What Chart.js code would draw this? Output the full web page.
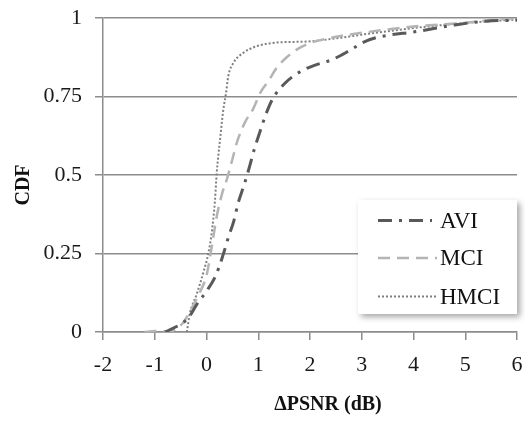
<!DOCTYPE html>
<html>
<head>
<meta charset="utf-8">
<script src="https://cdn.jsdelivr.net/npm/chart.js@4.4.1/dist/chart.umd.min.js"></script>
<style>
  html, body { margin: 0; padding: 0; background: #fff; }
  #wrap { width: 525px; height: 421px; }
</style>
</head>
<body>
<div id="wrap"><canvas id="cdfChart" width="525" height="421"></canvas></div>
<script>
// values
var seriesNames = ['AVI', 'MCI', 'HMCI'];
var yTickLabels = ['0', '0.25', '0.5', '0.75', '1'];

var aviX = [-0.8, -0.5, -0.35, -0.19, 0.0, 0.18, 0.31, 0.42, 0.53, 0.61, 0.73, 0.82, 0.92, 1.03, 1.14, 1.28, 1.5, 1.8, 2.1, 2.42, 2.75, 3.06, 3.35, 4.06, 4.8, 5.4, 6.0];
var aviY = [0, 0.025, 0.045, 0.087, 0.13, 0.18, 0.24, 0.30, 0.355, 0.41, 0.47, 0.52, 0.58, 0.636, 0.69, 0.743, 0.79, 0.828, 0.85, 0.867, 0.895, 0.925, 0.94, 0.957, 0.978, 0.99, 0.993];

var mciX = [-1.2, -1.0, -0.8, -0.6, -0.45, -0.32, -0.15, 0.0, 0.1, 0.2, 0.3, 0.4, 0.5, 0.6, 0.75, 0.9, 1.05, 1.2, 1.35, 1.55, 1.75, 2.0, 2.5, 3.1, 4.0, 5.0, 5.5, 6.0];
var mciY = [0, 0.003, 0.002, 0.008, 0.03, 0.065, 0.12, 0.18, 0.27, 0.37, 0.44, 0.49, 0.55, 0.61, 0.67, 0.71, 0.765, 0.80, 0.84, 0.875, 0.9, 0.92, 0.94, 0.955, 0.973, 0.985, 0.993, 1.0];

var hmciX = [-0.38, -0.32, -0.19, -0.06, 0.035, 0.10, 0.164, 0.197, 0.26, 0.325, 0.377, 0.42, 0.52, 0.71, 0.97, 1.36, 1.94, 2.5, 3.0, 4.0, 5.0, 5.5, 6.0];
var hmciY = [0, 0.06, 0.12, 0.19, 0.25, 0.315, 0.42, 0.506, 0.61, 0.708, 0.76, 0.814, 0.857, 0.889, 0.91, 0.922, 0.925, 0.935, 0.947, 0.968, 0.984, 0.99, 0.995];

function toPoints(xs, ys) {
    return xs.map(function (x, i) { return { x: x, y: ys[i] }; });
}

var serif = "'Liberation Serif', 'Times New Roman', serif";
var gridGray = '#8c8c8c';

// legend box drawn inside the plot, with a soft shadow
var legendPlugin = {
    id: 'boxLegend',
    afterDraw: function (chart) {
        var ctx = chart.ctx;
        var bx = 358, by = 200, bw = 159, bh = 114;
        ctx.save();
        ctx.shadowColor = 'rgba(0,0,0,0.35)';
        ctx.shadowBlur = 6;
        ctx.shadowOffsetX = 3;
        ctx.shadowOffsetY = 3;
        ctx.fillStyle = '#fff';
        ctx.fillRect(bx, by, bw, bh);
        ctx.restore();

        var rowsY = [220.5, 258, 296.5];
        chart.data.datasets.forEach(function (ds, i) {
            ctx.save();
            ctx.strokeStyle = ds.borderColor;
            ctx.lineWidth = ds.borderWidth;
            ctx.setLineDash(ds.borderDash || []);
            ctx.beginPath();
            ctx.moveTo(378, rowsY[i]);
            ctx.lineTo(i === 0 ? 432 : 437, rowsY[i]);
            ctx.stroke();
            ctx.restore();
            ctx.save();
            ctx.fillStyle = '#111';
            ctx.font = '23px ' + serif;
            ctx.textBaseline = 'middle';
            ctx.textAlign = 'left';
            ctx.fillText(ds.label, 440, rowsY[i] + 1);
            ctx.restore();
        });
    }
};

// axis titles sit a little off-centre in the reference
var axisTitlePlugin = {
    id: 'axisTitles',
    afterDraw: function (chart) {
        var ctx = chart.ctx;
        ctx.save();
        ctx.fillStyle = '#111';
        ctx.font = 'bold 20px ' + serif;
        ctx.textAlign = 'center';
        ctx.textBaseline = 'middle';
        ctx.fillText('\u0394PSNR (dB)', 328, 405);
        ctx.translate(24, 185);
        ctx.rotate(-Math.PI / 2);
        ctx.fillText('CDF', 0, 0);
        ctx.restore();
    }
};

new Chart(document.getElementById('cdfChart'), {
    type: 'line',
    data: {
        datasets: [
            { label: seriesNames[0], data: toPoints(aviX, aviY), borderColor: '#595959', borderWidth: 3, borderDash: [14, 7, 3, 7] },
            { label: seriesNames[1], data: toPoints(mciX, mciY), borderColor: '#b4b4b4', borderWidth: 2.5, borderDash: [12, 7] },
            { label: seriesNames[2], data: toPoints(hmciX, hmciY), borderColor: '#7f7f7f', borderWidth: 2, borderDash: [2, 2] }
        ]
    },
    options: {
        responsive: false,
        animation: false,
        layout: { padding: { left: 0, top: 18, right: 8, bottom: 3 } },
        elements: {
            point: { radius: 0 },
            line: { fill: false, cubicInterpolationMode: 'monotone' }
        },
        plugins: { legend: { display: false }, tooltip: { enabled: false } },
        scales: {
            x: {
                type: 'linear',
                min: -2,
                max: 6,
                ticks: { stepSize: 1, color: '#1a1a1a', padding: 12, font: { family: serif, size: 22 } },
                grid: { drawOnChartArea: false, drawTicks: true, tickLength: 8, color: gridGray, lineWidth: 1.5 },
                border: { display: true, color: gridGray, width: 1.5 },
                afterFit: function (scale) {
                    scale.height = 86;
                    scale.paddingLeft = 0;
                    scale.paddingRight = 0;
                }
            },
            y: {
                min: 0,
                max: 1,
                ticks: {
                    stepSize: 0.25,
                    color: '#1a1a1a',
                    padding: 13,
                    font: { family: serif, size: 22 },
                    callback: function (v) { return yTickLabels[Math.round(v / 0.25)]; }
                },
                grid: { color: gridGray, lineWidth: 1.5, tickLength: 8 },
                border: { display: true, color: gridGray, width: 1.5 },
                afterFit: function (scale) {
                    scale.width = 103;
                    scale.paddingTop = 0;
                    scale.paddingBottom = 0;
                }
            }
        }
    },
    plugins: [legendPlugin, axisTitlePlugin]
});
</script>
</body>
</html>
